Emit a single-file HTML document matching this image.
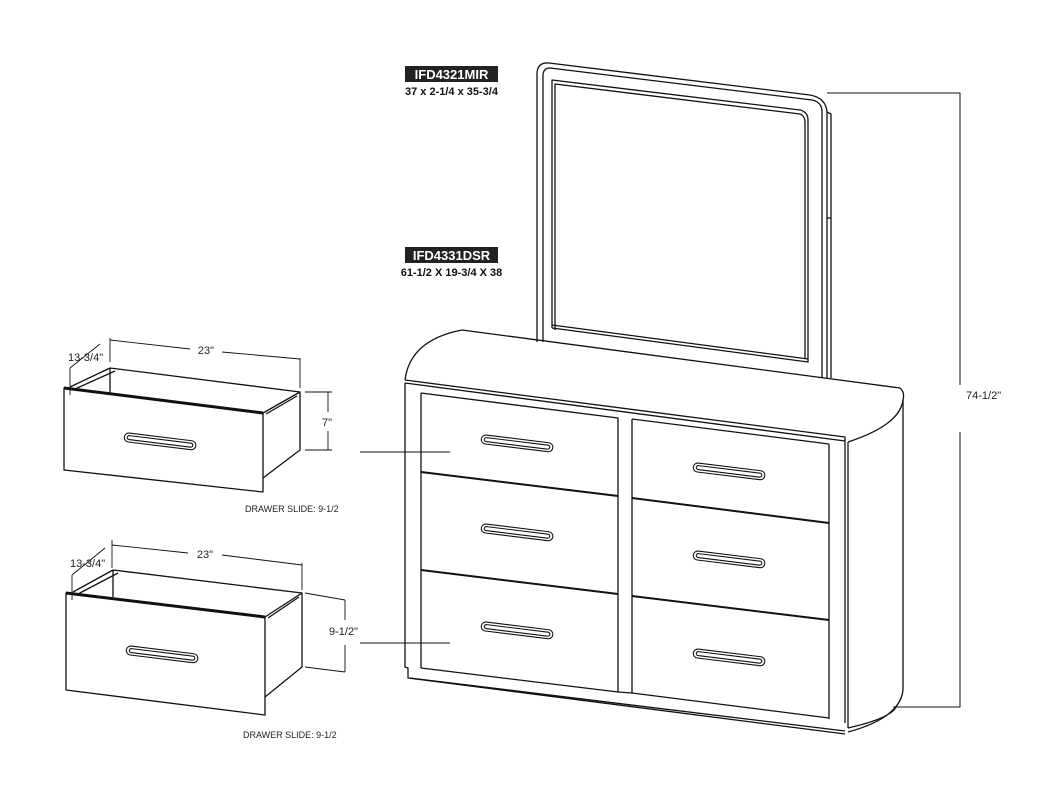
<!DOCTYPE html>
<html><head><style>
html,body{margin:0;padding:0;background:#fff;}
svg{display:block;}
text{font-family:"Liberation Sans",sans-serif;}
</style></head><body>
<svg width="1040" height="800" viewBox="0 0 1040 800" xmlns="http://www.w3.org/2000/svg">
<g fill="none" stroke="#111" stroke-width="1.3" stroke-linejoin="round">
<!-- Mirror -->
<path d="M537,342 L537,74 Q537,62 549,63 L810,95 Q826,98 827,112 L827,378"/>
<path d="M543,342 L543,76 Q543,68 550,68 L812,100 Q822,102 822,112 L822,378"/>
<path d="M552,328 L552,80 L800,110 Q808,112 808,120 L808,362 L552,328"/>
<path d="M555,330 L555,84 L800,114 Q805,116 805,122 L805,358"/>
<path d="M552,325 L808,359"/>
<path d="M827,112 L831,114 L831,378"/>
<path d="M827,218 L831,218"/>
<!-- Dresser top -->
<path d="M405,380 Q410,340 462,330 L900,388 Q905,392 903,400 Q900,425 848,442"/>
<path d="M405,380 L845,437 L845,444"/>
<path d="M405,383 L845,441"/>
<path d="M848,442 L848,728"/>
<path d="M903,400 L903,690 Q900,718 848,732"/>
<path d="M897,705 Q893,718 848,728"/>
<!-- front frame -->
<path d="M405,383 L405,667 L408,668 L408,678 L845,734"/>
<path d="M410,678 L845,731"/>
<path d="M421,393 L421,668"/>
<path d="M829,444 L829,719"/>
<path d="M845,444 L845,723"/>
<!-- left drawers -->
<path d="M421,393 L618,418 L618,692 L421,668"/>
<path d="M421,472 L618,496" stroke-width="2"/>
<path d="M421,570 L618,594" stroke-width="2"/>
<path d="M632,419 L829,444 M632,419 L632,693 L829,718"/>
<path d="M632,498 L829,523" stroke-width="2"/>
<path d="M632,596 L829,620" stroke-width="2"/>
<path d="M618,692 L632,693"/>
<!-- dimension 74-1/2 -->
<path d="M827,93 L960,93 L960,385 M960,432 L960,707 L893,707" stroke-width="1"/>
<path d="M360,452 L450,452 M360,643 L450,643" stroke-width="1"/>
<!-- drawer 1 -->
<path d="M64,388 L263,413 L263,492 L64,470 Z"/>
<path d="M64,388 L263,413" stroke-width="3"/>
<path d="M110,368 L300,392 L263,413 M110,368 L110,393 M110,368 L70,387 M115,371 L75,389"/>
<path d="M300,392 L300,450 L263,478 M297,396 L266,414"/>
<path d="M110,338 L110,362 M300,358 L300,388 M110,340 L190,349 M222,352 L300,359 M70,368 L100,344 M70,368 L70,395 M305,392 L332,392 M305,450 L332,450 M328,392 L328,412 M328,431 L328,450" stroke-width="0.9"/>
<!-- drawer 2 -->
<path d="M66,593 L265,617 L265,715 L66,690 Z"/>
<path d="M66,593 L265,617" stroke-width="3"/>
<path d="M113,570 L302,593 L265,617 M113,570 L113,597 M113,570 L73,592 M118,573 L78,594"/>
<path d="M302,593 L302,667 L265,697 M299,597 L268,618"/>
<path d="M112,540 L112,568 M302,563 L302,590 M112,545 L188,553 M222,555 L302,565 M72,575 L105,548 M72,575 L72,600 M305,593 L345,600 M305,667 L345,672 M345,600 L345,620 M345,645 L345,672" stroke-width="0.9"/>
</g>
<!-- handles -->
<g fill="#fff" stroke="#111" stroke-width="1.1">
<g transform="translate(518,444) rotate(7)"><rect x="-37" y="-5" width="72" height="9" rx="4.5"/><rect x="-34" y="-2.5" width="66" height="4" rx="2"/></g>
<g transform="translate(518,533) rotate(7)"><rect x="-37" y="-5" width="72" height="9" rx="4.5"/><rect x="-34" y="-2.5" width="66" height="4" rx="2"/></g>
<g transform="translate(518,631) rotate(7)"><rect x="-37" y="-5" width="72" height="9" rx="4.5"/><rect x="-34" y="-2.5" width="66" height="4" rx="2"/></g>
<g transform="translate(730,472) rotate(7)"><rect x="-37" y="-5" width="72" height="9" rx="4.5"/><rect x="-34" y="-2.5" width="66" height="4" rx="2"/></g>
<g transform="translate(730,560) rotate(7)"><rect x="-37" y="-5" width="72" height="9" rx="4.5"/><rect x="-34" y="-2.5" width="66" height="4" rx="2"/></g>
<g transform="translate(730,658) rotate(7)"><rect x="-37" y="-5" width="72" height="9" rx="4.5"/><rect x="-34" y="-2.5" width="66" height="4" rx="2"/></g>
<g transform="translate(161,442) rotate(7)"><rect x="-37" y="-5" width="72" height="9" rx="4.5"/><rect x="-34" y="-2.5" width="66" height="4" rx="2"/></g>
<g transform="translate(163,655) rotate(7)"><rect x="-37" y="-5" width="72" height="9" rx="4.5"/><rect x="-34" y="-2.5" width="66" height="4" rx="2"/></g>
</g>
<!-- labels -->
<rect x="405" y="66" width="93" height="16" fill="#222"/>
<text x="451.5" y="79" fill="#fff" font-size="13" font-weight="bold" text-anchor="middle">IFD4321MIR</text>
<text x="451.5" y="95" fill="#111" font-size="11" font-weight="bold" text-anchor="middle">37 x 2-1/4 x 35-3/4</text>
<rect x="405" y="247" width="93" height="16" fill="#222"/>
<text x="451.5" y="260" fill="#fff" font-size="13" font-weight="bold" text-anchor="middle">IFD4331DSR</text>
<text x="451.5" y="276" fill="#111" font-size="11" font-weight="bold" text-anchor="middle">61-1/2 X 19-3/4 X 38</text>
<g fill="#222" font-size="11">
<text x="966" y="399">74-1/2"</text>
<text x="206" y="354" text-anchor="middle">23"</text>
<text x="68" y="361">13-3/4"</text>
<text x="322" y="426">7"</text>
<text x="245" y="512" font-size="9">DRAWER SLIDE: 9-1/2</text>
<text x="205" y="558" text-anchor="middle">23"</text>
<text x="70" y="567">13-3/4"</text>
<text x="329" y="635">9-1/2"</text>
<text x="243" y="738" font-size="9">DRAWER SLIDE: 9-1/2</text>
</g>
</svg>
</body></html>
